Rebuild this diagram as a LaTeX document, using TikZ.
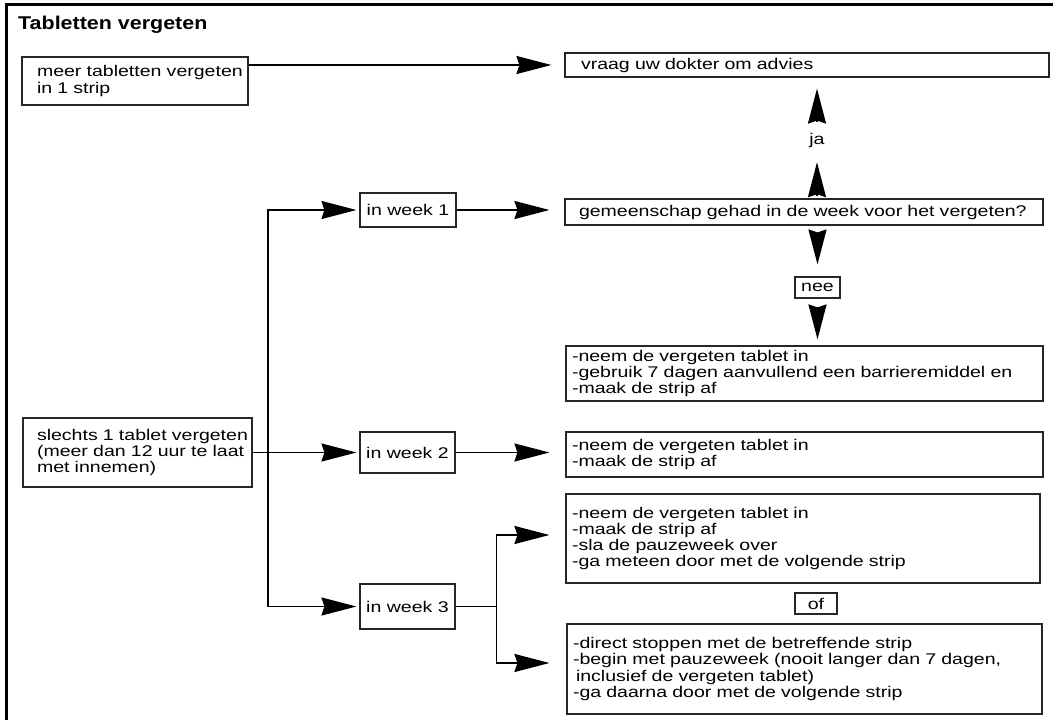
\documentclass[tikz,border=0pt]{standalone}
\usepackage{fontspec}
\setmainfont{Liberation Sans}[FakeStretch=1.26]
\newfontfamily\titlefont{Liberation Sans}[FakeStretch=1.16]
\usetikzlibrary{arrows.meta}

\newcommand{\boxfont}{\fontsize{15.5}{16.2}\selectfont}

\begin{document}
\begin{tikzpicture}[x=1pt, y=-1pt,
    box/.style={draw=black!85, line width=1.1pt, align=left, inner xsep=4pt, inner ysep=0pt, font=\boxfont},
    lskip/.style={execute at begin node={\leftskip=#1\rightskip=0pt plus 1fil minus 40pt}},
    weekbox/.style={draw=black!85, line width=1.1pt, align=center, inner sep=0pt, font=\boxfont},
    arr/.style={line width=1.8pt, -{Stealth[length=35pt, width=18pt, inset=3pt]}}]
    \useasboundingbox (0,0) rectangle (1053,720);

    % frame and title
    \draw[line width=2.5pt] (6.5,720) -- (6.5,4.5) -- (1053,4.5);
    \node[anchor=base west, inner sep=0pt, font=\titlefont\bfseries\fontsize{18.5}{20}\selectfont] (title) at (18,30) {Tabletten vergeten};

    % left column
    \node[box, lskip=11pt, text width=218pt, minimum height=48pt] (meer) at (135,81) {meer tabletten vergeten\\in 1 strip};
    \node[box, lskip=10pt, text width=221pt, minimum height=69pt] (slechts) at (137.5,452.5) {slechts 1 tablet vergeten\\(meer dan 12 uur te laat\\met innemen)};

    % weeks
    \node[weekbox, minimum width=96pt, minimum height=34pt] (week1) at (408,210) {in week 1};
    \node[weekbox, minimum width=95pt, minimum height=41pt] (week2) at (407.5,452.5) {in week 2};
    \node[weekbox, minimum width=95pt, minimum height=45pt] (week3) at (407.5,606.5) {in week 3};

    % right column
    \node[box, lskip=12pt, text width=476pt, minimum height=24pt] (advies) at (807,65) {vraag uw dokter om advies};
    \node[box, lskip=10pt, text width=470pt, minimum height=26pt] (gem) at (804,212) {gemeenschap gehad in de week voor het vergeten?};
    \node[box, lskip=2pt, text width=469pt, minimum height=55pt] (barriere) at (804.5,373.5) {-neem de vergeten tablet in\\-gebruik 7 dagen aanvullend een barrieremiddel en\\-maak de strip af};
    \node[box, lskip=2pt, text width=469pt, minimum height=45pt] (strip) at (804.5,454.5) {-neem de vergeten tablet in\\-maak de strip af};
    \node[box, lskip=2pt, text width=466pt, minimum height=89pt] (overslaan) at (803,538.5) {-neem de vergeten tablet in\\-maak de strip af\\-sla de pauzeweek over\\-ga meteen door met de volgende strip};
    \node[box, lskip=2pt, text width=467pt, minimum height=90pt] (stoppen) at (804.5,669) {-direct stoppen met de betreffende strip\\-begin met pauzeweek (nooit langer dan 7 dagen,\\\hspace*{3pt}inclusief de vergeten tablet)\\-ga daarna door met de volgende strip};

    % ja / nee / of
    \node[inner sep=0pt, minimum height=20pt, font=\boxfont] (ja) at (817,140) {ja};
    \node[weekbox, minimum width=45pt, minimum height=21pt] (nee) at (817.5,287.5) {nee};
    \node[weekbox, minimum width=42pt, minimum height=21pt] (of) at (816,603.5) {of};

    % arrows
    \coordinate (trunk) at (268,452.5);
    \draw[arr, shorten >=13pt] (meer.east |- advies.west) -- (advies.west);
    \draw[arr, shorten >=3pt] (slechts.east) -- (week2.west);
    \draw[arr, shorten >=3pt] (trunk) |- (week1.west);
    \draw[arr, shorten >=3pt] (trunk) |- (week3.west);
    \draw[arr, shorten >=15pt] (week1.east) -- (week1.east -| gem.west);
    \draw[arr, shorten >=16pt] (week2.east) -- (week2.east -| strip.west);
    \draw[arr, shorten >=16pt] (week3.east) -- ++(41,0) |- ([yshift=3.5pt]overslaan.west);
    \draw[arr, shorten >=17pt] (week3.east) -- ++(41,0) |- ([yshift=6pt]stoppen.west);
    \draw[arr, shorten <=2pt, shorten >=12pt] (gem.north -| ja) -- (ja.south);
    \draw[arr, shorten <=8pt, shorten >=11pt] (ja.north) -- (advies.south -| ja);
    \draw[arr, shorten <=7pt, shorten >=12pt] (gem.south -| nee) -- (nee.north);
    \draw[arr, shorten <=8pt, shorten >=6pt] (nee.south) -- (barriere.north -| nee);
\end{tikzpicture}
\end{document}
